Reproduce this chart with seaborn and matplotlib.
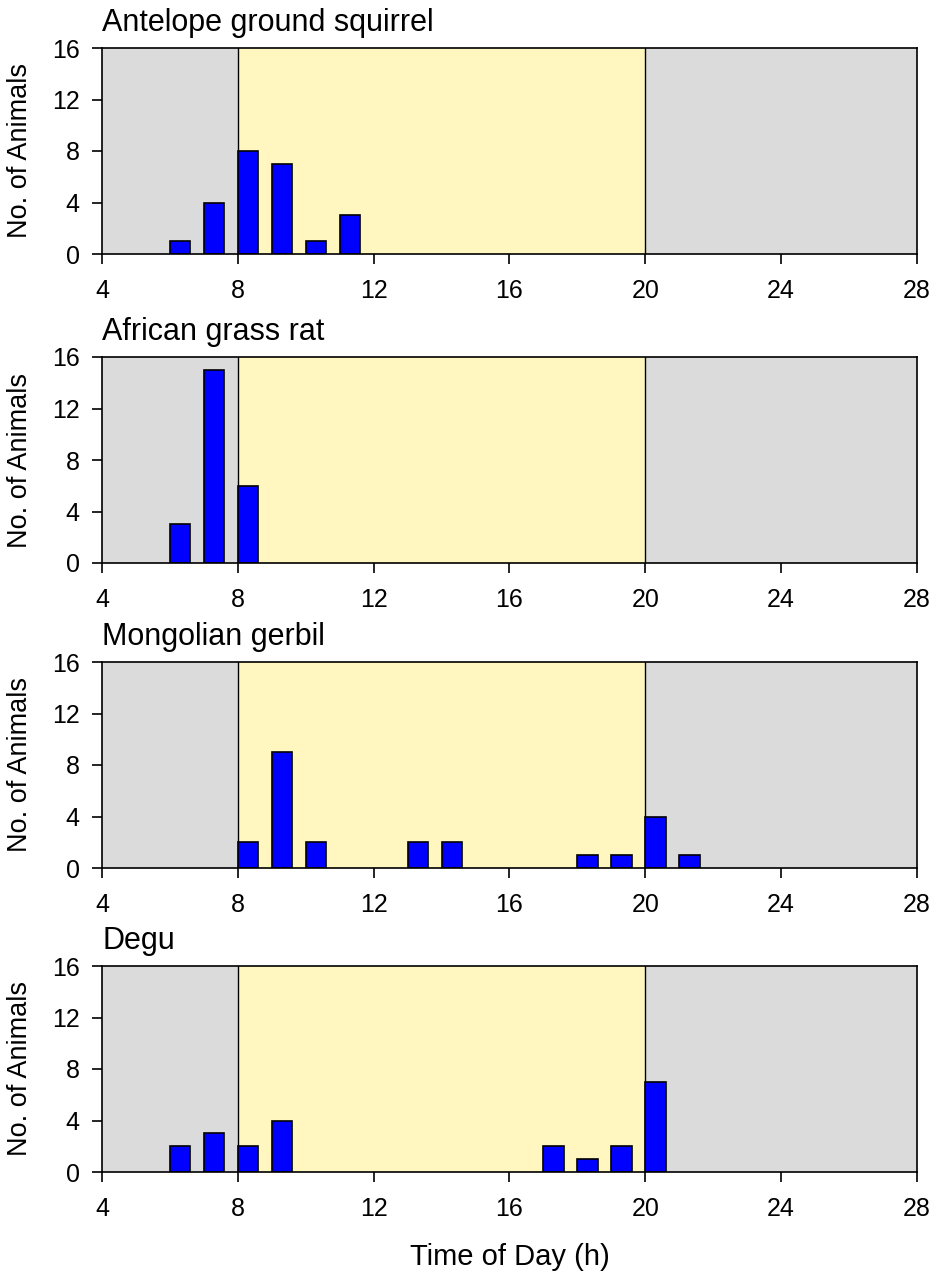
import numpy as np
import pandas as pd
import seaborn as sns
import matplotlib.pyplot as plt

# Données : heure d'apparition et nombre d'animaux
species = ['Antelope ground squirrel', 'African grass rat', 'Mongolian gerbil', 'Degu']

squirrel_hours = [6, 7, 8, 9, 10, 11]
squirrel_counts = [1, 4, 8, 7, 1, 3]

grassrat_hours = [6, 7, 8]
grassrat_counts = [3, 15, 6]

gerbil_hours = [8, 9, 10, 13, 14, 18, 19, 20, 21]
gerbil_counts = [2, 9, 2, 2, 2, 1, 1, 4, 1]

degu_hours = [6, 7, 8, 9, 17, 18, 19, 20]
degu_counts = [2, 3, 2, 4, 2, 1, 2, 7]

lights_on = 8
lights_off = 20
x_ticks = [4, 8, 12, 16, 20, 24, 28]
y_ticks = [0, 4, 8, 12, 16]

sns.set_style('white')
plt.rcParams['font.family'] = ['Liberation Sans', 'DejaVu Sans']
plt.rcParams['text.color'] = 'black'
plt.rcParams['axes.labelcolor'] = 'black'
plt.rcParams['xtick.color'] = 'black'
plt.rcParams['ytick.color'] = 'black'

W, H = 938, 1278
fig = plt.figure(figsize=(W / 100, H / 100), dpi=100)

panels = [
    (squirrel_hours, squirrel_counts),
    (grassrat_hours, grassrat_counts),
    (gerbil_hours, gerbil_counts),
    (degu_hours, degu_counts),
]
tops = [48, 357, 662, 966]
ax_h = 206
left, right = 102, 917

bar_w = 0.6
for i, (name, (hours, counts)) in enumerate(zip(species, panels)):
    top = tops[i]
    ax = fig.add_axes([left / W, 1 - (top + ax_h) / H, (right - left) / W, ax_h / H])

    # Fond : nuit / jour / nuit
    ax.axvspan(x_ticks[0], lights_on, color='#DBDBDB', lw=0, zorder=0)
    ax.axvspan(lights_on, lights_off, color='#FFF7BF', lw=0, zorder=0)
    ax.axvspan(lights_off, x_ticks[-1], color='#DBDBDB', lw=0, zorder=0)
    ax.axvline(lights_on, color='black', lw=1, zorder=1)
    ax.axvline(lights_off, color='black', lw=1, zorder=1)

    # Barres alignées à gauche de l'heure (h -> h + 0.6)
    df = pd.DataFrame({'hour': np.array(hours) + bar_w / 2, 'n': counts})
    sns.barplot(data=df, x='hour', y='n', native_scale=True, width=bar_w,
                color='#0000FF', saturation=1, edgecolor='black', linewidth=1.2,
                errorbar=None, ax=ax, zorder=2)

    ax.set_xlim(x_ticks[0], x_ticks[-1])
    ax.set_ylim(0, 16)
    ax.set_xticks(x_ticks)
    ax.set_xticklabels([str(t) for t in x_ticks])
    ax.set_yticks(y_ticks)
    ax.tick_params(axis='both', direction='out', length=7, width=1.2,
                   color='black', labelcolor='black', labelsize=18, pad=9,
                   bottom=True, left=True)
    ax.tick_params(axis='x', pad=11)
    for sp in ax.spines.values():
        sp.set_visible(True)
        sp.set_color('black')
        sp.set_linewidth(1.2)
        sp.set_zorder(5)

    ax.set_title(name, loc='left', fontsize=22, pad=12)
    ax.set_ylabel('No. of Animals', fontsize=19.5)
    ax.yaxis.set_label_coords(-0.085, 0.5)
    if i == len(species) - 1:
        ax.set_xlabel('Time of Day (h)', fontsize=21, labelpad=16)
    else:
        ax.set_xlabel('')

fig.savefig('out.png', dpi=100, facecolor='white')
